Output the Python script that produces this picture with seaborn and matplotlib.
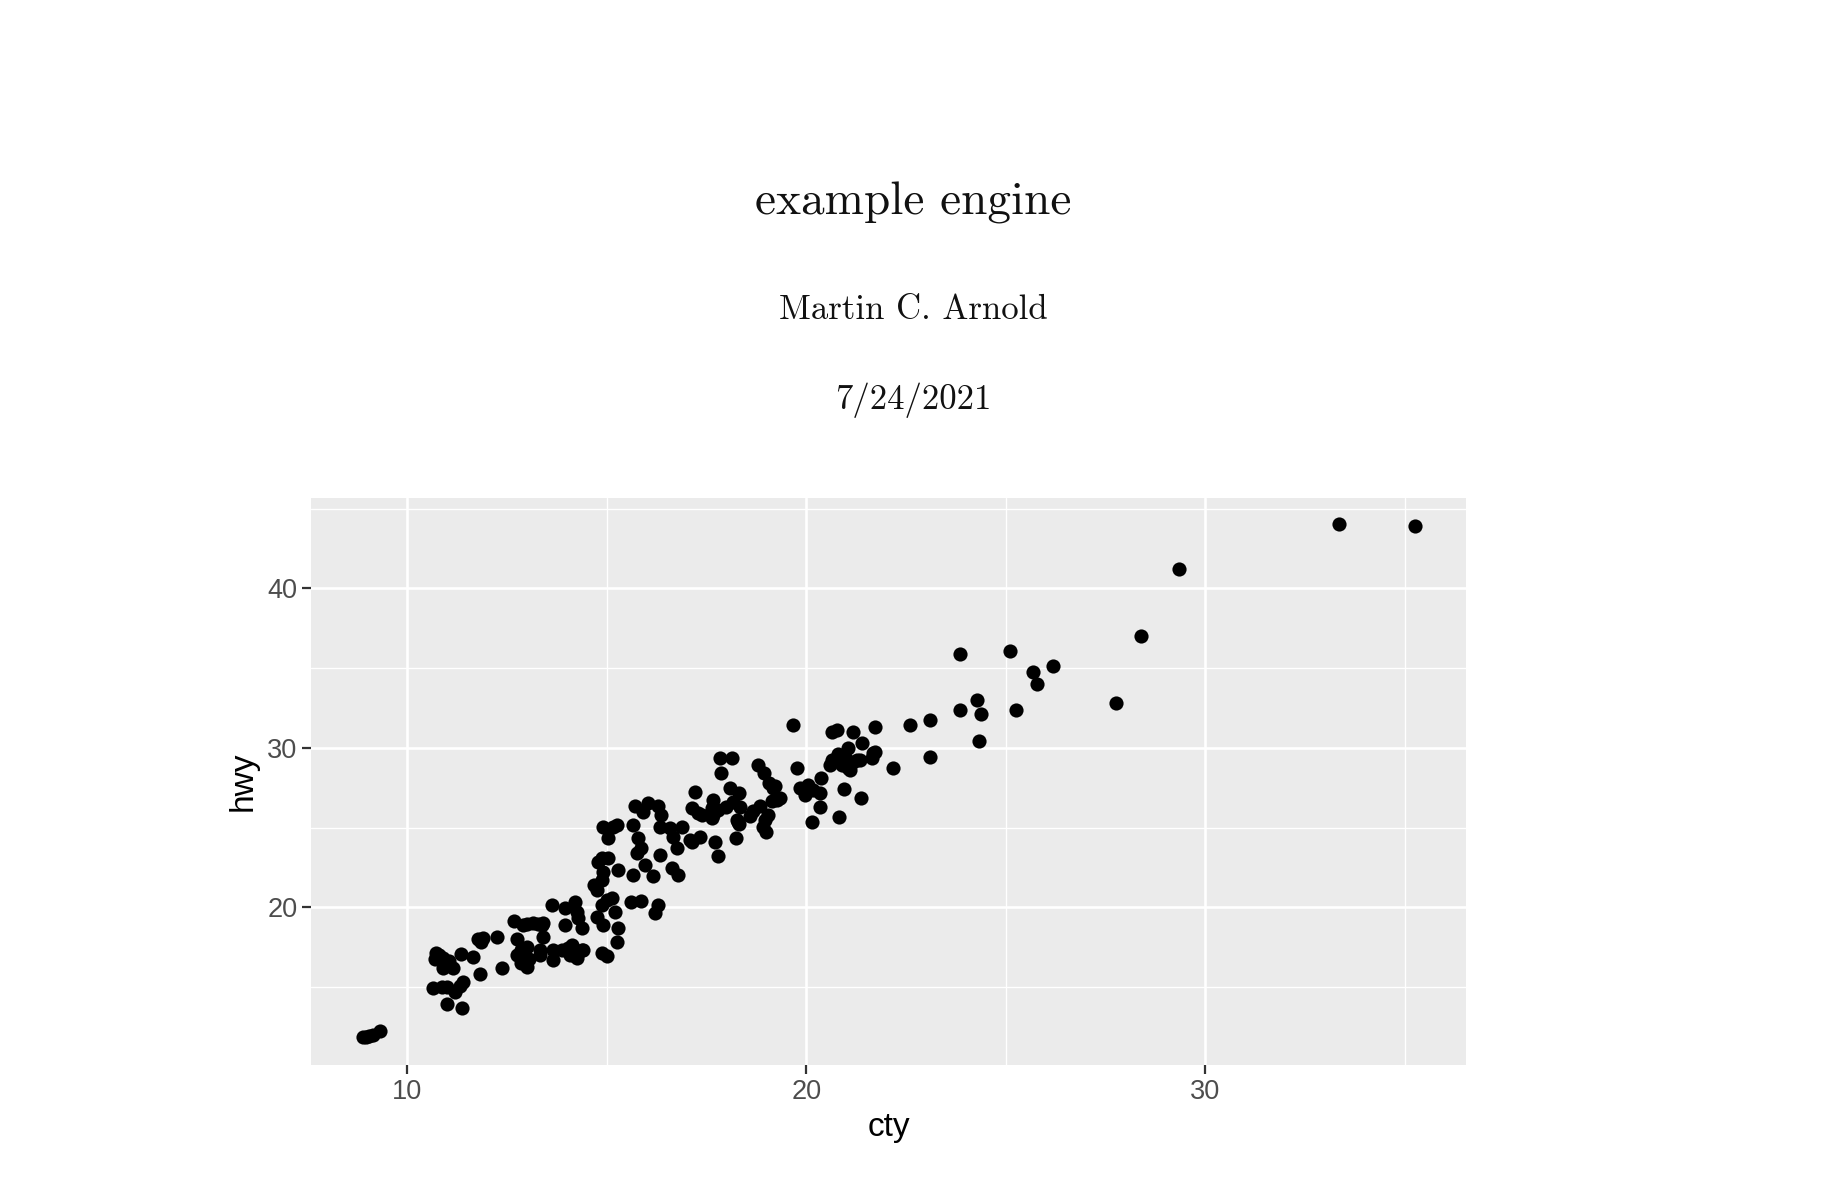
import matplotlib
matplotlib.use("Agg")
import matplotlib.pyplot as plt
import pandas as pd
import seaborn as sns

# ---- data (jittered cty / hwy) ----
cty = [8.90, 8.98, 9.05, 9.15, 9.32,
       10.72, 10.69, 10.90, 10.99, 11.14, 10.90, 10.80, 11.05, 11.34, 11.65, 11.82,
       11.78, 11.90, 11.86, 12.26, 12.38,
       10.65, 10.86, 10.99, 11.20, 11.32, 11.39, 10.99, 11.38,
       12.68, 12.99, 13.28, 13.41, 12.91, 13.16, 13.37, 13.41, 13.33, 12.99, 12.91, 12.99,
       13.33, 13.66, 13.66, 13.87, 14.12, 14.16, 14.37, 12.75, 12.85, 12.75, 13.05, 12.85,
       13.64, 13.95, 14.20, 14.25, 14.29, 14.37, 13.95, 14.04, 14.25, 14.41, 14.08,
       14.75, 14.67, 14.79, 14.87, 15.04, 14.91, 14.87, 14.87, 15.00, 15.12, 14.75, 14.91,
       15.21, 15.29, 15.25, 14.87, 15.00, 15.29, 14.91, 15.16, 15.25, 15.04,
       15.62, 15.87, 16.29, 16.21, 15.65, 15.96, 16.17, 15.75, 15.87, 16.33, 16.63, 16.79,
       15.66, 15.79, 16.33, 16.67, 16.88, 16.75, 17.13, 17.33, 17.71, 17.79, 18.24, 18.32,
       15.70, 15.91, 16.04, 16.29, 16.37, 17.13, 17.29, 17.67, 17.63, 17.67, 17.79, 18.00,
       18.17, 18.34, 17.21, 17.83, 18.13, 17.86, 18.09, 18.32, 18.78, 18.94,
       19.22, 19.34, 19.13, 18.84, 18.67, 18.59, 19.66, 19.76, 18.92, 19.00, 18.96, 19.05,
       17.38, 17.63, 18.26, 19.17, 19.26, 19.07, 16.58, 17.08, 18.30,
       19.84, 20.05, 19.96, 20.17, 20.34, 20.38, 20.34, 20.15, 20.83, 20.95, 21.37,
       20.64, 20.76, 21.18, 21.39, 21.72, 20.64, 20.76, 20.89, 21.05, 21.05, 21.18, 21.35,
       21.68, 21.64, 22.18, 20.97, 21.72, 20.59, 21.10, 21.26, 20.80,
       22.60, 23.10, 23.10, 23.85, 25.10, 25.69, 25.79, 26.19, 28.38, 27.76,
       24.27, 23.85, 24.37, 25.26, 24.34, 33.36, 35.24, 29.35]

hwy = [11.89, 11.85, 11.95, 12.00, 12.27,
       17.15, 16.74, 16.80, 16.38, 16.18, 16.18, 17.00, 16.60, 17.07, 16.86, 15.82,
       17.99, 18.06, 17.85, 18.12, 16.18,
       14.92, 14.98, 14.98, 14.71, 15.07, 15.34, 13.94, 13.71,
       19.14, 18.93, 18.93, 19.00, 18.89, 19.00, 18.89, 18.16, 17.32, 17.53, 16.90, 16.28,
       17.01, 17.32, 16.70, 17.32, 17.64, 17.01, 17.32, 18.00, 17.30, 17.00, 16.75, 16.50,
       20.14, 19.94, 20.35, 19.72, 19.31, 18.68, 18.89, 17.43, 16.80, 17.32, 17.01,
       21.08, 21.40, 22.86, 23.07, 23.07, 22.23, 21.71, 20.15, 20.45, 20.55, 19.41, 18.89,
       19.72, 18.68, 17.85, 17.12, 16.95, 22.34, 25.05, 25.05, 25.16, 24.32,
       20.35, 20.39, 20.14, 19.66, 22.03, 22.65, 21.96, 23.38, 23.70, 23.28, 22.45, 22.03,
       25.16, 24.32, 25.05, 24.43, 25.05, 23.70, 24.11, 24.43, 24.11, 23.22, 24.32, 25.22,
       26.35, 25.99, 26.52, 26.35, 25.79, 26.21, 25.89, 26.73, 26.21, 25.79, 26.10, 26.31,
       26.62, 26.31, 27.25, 29.34, 29.34, 28.40, 27.46, 27.15, 28.92, 28.44,
       27.61, 26.88, 26.67, 26.35, 26.04, 25.73, 31.43, 28.75, 25.05, 24.74, 25.47, 25.79,
       25.79, 25.58, 25.47, 27.46, 26.73, 27.77, 24.95, 24.22, 25.35,
       27.46, 27.67, 27.04, 27.36, 27.15, 28.09, 26.29, 25.35, 25.64, 27.40, 26.87,
       31.00, 31.11, 31.00, 30.31, 31.32, 29.24, 29.34, 28.92, 29.97, 28.71, 29.13, 29.24,
       29.66, 29.34, 28.71, 29.44, 29.76, 28.92, 28.61, 29.24, 29.60,
       31.43, 31.74, 29.44, 35.91, 36.08, 34.77, 34.00, 35.13, 37.00, 32.78,
       32.98, 32.39, 32.14, 32.35, 30.41, 44.06, 43.89, 41.18]

x_ticks = [10, 20, 30]
y_ticks = [20, 30, 40]
x_minor = [15, 25, 35]
y_minor = [15, 25, 35, 45]
title_text = "example engine"
author_text = "Martin C. Arnold"
date_text = "7/24/2021"

sns.set_theme(style="darkgrid")
plt.rcParams['font.family'] = ['Liberation Sans', 'DejaVu Sans']

fig = plt.figure(figsize=(18.26, 11.90), dpi=100)
ax = fig.add_axes([311 / 1826, 1 - 1065 / 1190, (1466 - 311) / 1826, (1065 - 498) / 1190])

df = pd.DataFrame({"cty": cty, "hwy": hwy})
sns.scatterplot(data=df, x="cty", y="hwy", ax=ax, color="black", s=104,
                linewidth=0, zorder=3)

ax.set_facecolor("#EBEBEB")
ax.set_xlim(7.59, 36.53)
ax.set_ylim(10.11, 45.66)
ax.set_xticks(x_ticks)
ax.set_yticks(y_ticks)
ax.set_xticks(x_minor, minor=True)
ax.set_yticks(y_minor, minor=True)
ax.set_axisbelow(True)
ax.grid(which='major', color='white', linewidth=1.9)
ax.grid(which='minor', color='white', linewidth=0.95)
for sp in ax.spines.values():
    sp.set_visible(False)
ax.tick_params(which='major', bottom=True, left=True, length=6.3, width=1.6,
               color='#333333', labelsize=19.5, labelcolor='#4D4D4D', pad=3.5)
ax.tick_params(which='minor', bottom=False, left=False, length=0)
ax.set_xlabel("cty", fontsize=24, color='black', labelpad=5)
ax.set_ylabel("hwy", fontsize=24, color='black', labelpad=6)

fig.text(0.5, 1 - 214.3 / 1190, title_text, family='cmr10', fontsize=34,
         ha='center', va='baseline', color='#111111')
fig.text(0.5, 1 - 319.0 / 1190, author_text, family='cmr10', fontsize=25,
         ha='center', va='baseline', color='#111111')
fig.text(0.5, 1 - 408.7 / 1190, date_text, family='cmr10', fontsize=25,
         ha='center', va='baseline', color='#111111')

fig.savefig("out.png", dpi=100, facecolor='white')
